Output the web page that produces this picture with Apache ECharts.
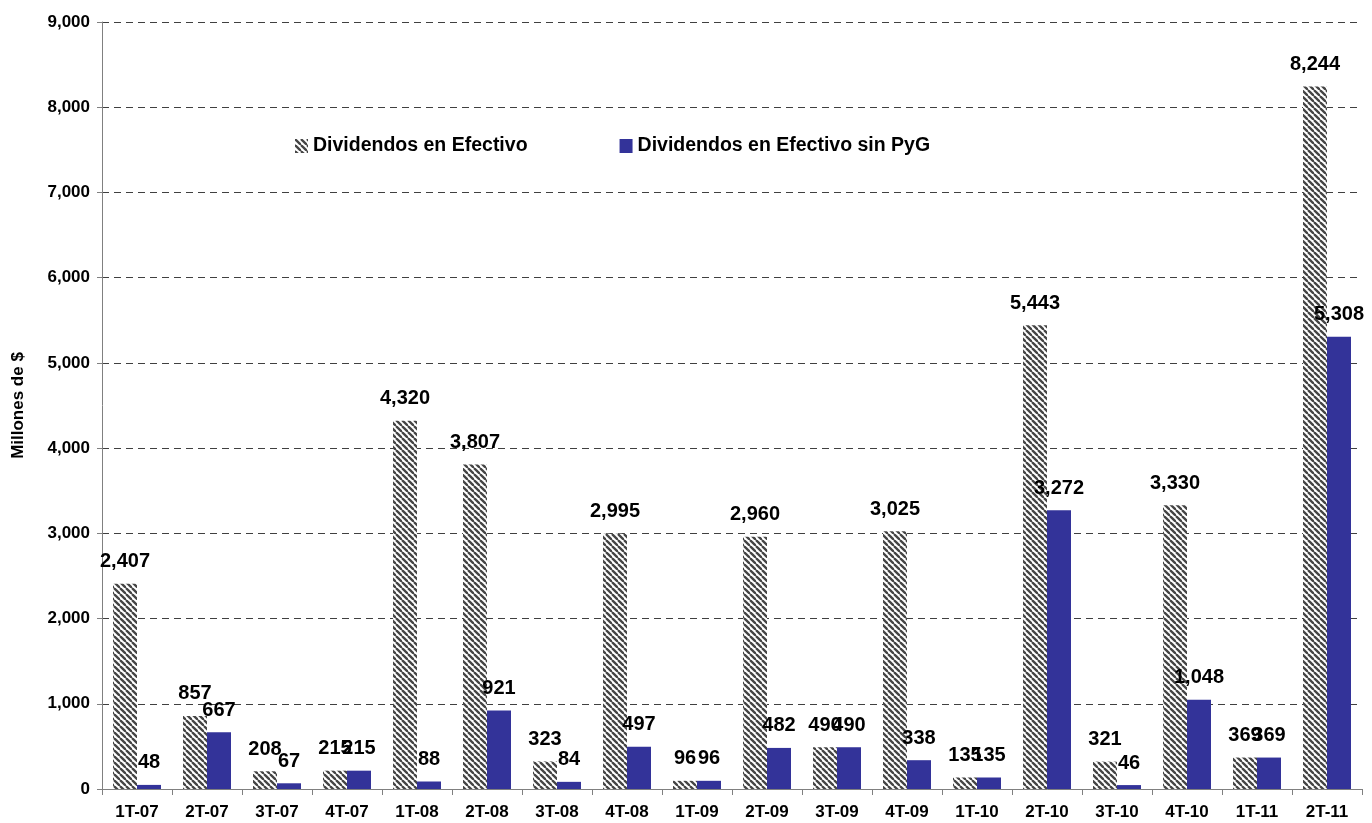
<!DOCTYPE html>
<html>
<head>
<meta charset="utf-8">
<title>Dividendos en Efectivo</title>
<script src="https://cdn.jsdelivr.net/npm/echarts@6/dist/echarts.min.js"></script>
<style>
  html, body { margin: 0; padding: 0; background: #fff; }
  #chart { width: 1372px; height: 823px; }
</style>
</head>
<body>
<div id="chart"></div>
<script>
// datos (millones de $)
var categories = ["1T-07", "2T-07", "3T-07", "4T-07", "1T-08", "2T-08", "3T-08", "4T-08", "1T-09",
  "2T-09", "3T-09", "4T-09", "1T-10", "2T-10", "3T-10", "4T-10", "1T-11", "2T-11"];
var dividendos = [2407, 857, 208, 215, 4320, 3807, 323, 2995, 96, 2960, 490, 3025, 135, 5443, 321, 3330, 369, 8244];
var dividendosSinPyG = [48, 667, 67, 215, 88, 921, 84, 497, 96, 482, 490, 338, 135, 3272, 46, 1048, 369, 5308];
var legendData = ["Dividendos en Efectivo", "Dividendos en Efectivo sin PyG"];

var font = "'Liberation Sans', Arial, Helvetica, sans-serif";

function miles(v) {
  return String(v).replace(/\B(?=(\d{3})+(?!\d))/g, ",");
}

// trama rayada diagonal para la primera serie
function rayado() {
  var s = 6;
  var cvs = document.createElement("canvas");
  cvs.width = s;
  cvs.height = s;
  var ctx = cvs.getContext("2d");
  ctx.fillStyle = "#ffffff";
  ctx.fillRect(0, 0, s, s);
  ctx.strokeStyle = "#444444";
  ctx.lineWidth = 2.3;
  for (var k = -s; k <= s; k += s) {
    ctx.beginPath();
    ctx.moveTo(k, 0);
    ctx.lineTo(k + s, s);
    ctx.stroke();
  }
  return cvs;
}

var chart = echarts.init(document.getElementById("chart"));

var labelStyle = {
  show: true,
  position: "top",
  distance: 12,
  color: "#000",
  fontFamily: font,
  fontWeight: "bold",
  fontSize: 20,
  formatter: function (p) { return miles(p.value); }
};

var option = {
  animation: false,
  backgroundColor: "#fff",
  textStyle: { fontFamily: font },
  grid: {
    top: 22,
    left: 102,
    right: 10,
    bottom: 34,
    containLabel: false,
    outerBoundsMode: "none"
  },
  legend: {
    data: legendData,
    left: 290,
    top: 131,
    icon: "rect",
    itemWidth: 13,
    itemHeight: 14,
    itemGap: 92,
    textStyle: {
      color: "#000",
      fontFamily: font,
      fontWeight: "bold",
      fontSize: 19.5
    }
  },
  xAxis: {
    type: "category",
    data: categories,
    axisLine: { lineStyle: { color: "#808080", width: 1 } },
    axisTick: { show: true, length: 6, lineStyle: { color: "#808080" } },
    axisLabel: {
      color: "#000",
      fontFamily: font,
      fontWeight: "bold",
      fontSize: 17,
      margin: 15
    }
  },
  yAxis: {
    type: "value",
    min: 0,
    max: 9000,
    interval: 1000,
    name: "Millones de $",
    nameLocation: "middle",
    nameGap: 75,
    nameTextStyle: {
      color: "#000",
      fontFamily: font,
      fontWeight: "bold",
      fontSize: 17
    },
    axisLine: { show: true, lineStyle: { color: "#808080", width: 1 } },
    axisTick: { show: true, length: 5, lineStyle: { color: "#808080" } },
    axisLabel: {
      color: "#000",
      fontFamily: font,
      fontWeight: "bold",
      fontSize: 17,
      margin: 12,
      formatter: function (v) { return miles(v); }
    },
    splitLine: {
      show: true,
      lineStyle: { color: "#404040", width: 1, type: [7, 5] }
    }
  },
  series: [
    {
      name: legendData[0],
      type: "bar",
      barWidth: 24,
      barGap: "0%",
      data: dividendos,
      itemStyle: { color: { image: rayado(), repeat: "repeat" } },
      label: labelStyle
    },
    {
      name: legendData[1],
      type: "bar",
      barWidth: 24,
      barGap: "0%",
      data: dividendosSinPyG,
      itemStyle: { color: "#333399" },
      label: labelStyle
    }
  ]
};

chart.setOption(option, true);
window.addEventListener("resize", function () {
  chart.resize();
});
</script>
</body>
</html>
